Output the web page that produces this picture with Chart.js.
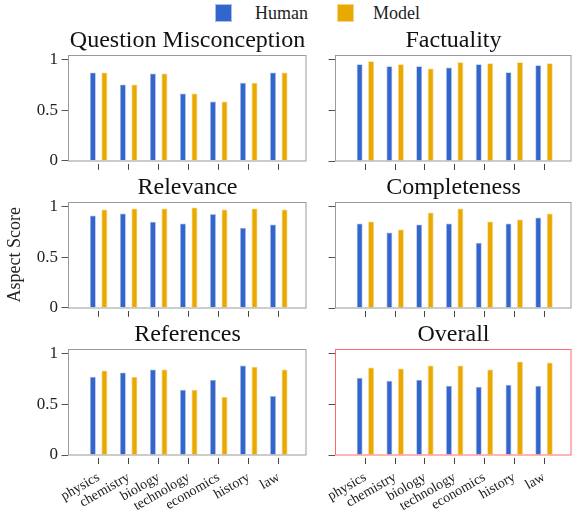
<!DOCTYPE html>
<html>
<head>
<meta charset="utf-8">
<script src="https://cdn.jsdelivr.net/npm/chart.js@4/dist/chart.umd.min.js"></script>
<style>
  html, body { margin: 0; padding: 0; background: #fff; }
  #wrap { position: relative; width: 573px; height: 512px; overflow: hidden; font-family: 'Liberation Serif', 'Times New Roman', serif; }
  #wrap canvas { position: absolute; }
  .key { position: absolute; top: 4px; width: 17px; height: 18px; box-sizing: border-box; }
  .keytext { position: absolute; top: 2px; font-size: 18px; line-height: 22px; color: #222; }
</style>
</head>
<body>
<div id="wrap">
  <div class="key" style="left:215px; background:#3366cc; border:1px solid #a9bde9;"></div>
  <div class="keytext" style="left:255px;">Human</div>
  <div class="key" style="left:337px; background:#eaa900; border:1px solid #f3d48a;"></div>
  <div class="keytext" style="left:373px;">Model</div>

  <canvas id="c-qm" style="left:0px; top:26px;" width="308" height="147"></canvas>
  <canvas id="c-fact" style="left:315px; top:26px;" width="258" height="147"></canvas>
  <canvas id="c-rel" style="left:0px; top:173px;" width="308" height="147"></canvas>
  <canvas id="c-comp" style="left:315px; top:173px;" width="258" height="147"></canvas>
  <canvas id="c-ref" style="left:0px; top:320px;" width="308" height="192"></canvas>
  <canvas id="c-all" style="left:315px; top:320px;" width="258" height="192"></canvas>
</div>
<script>
// === Оцінки по аспектах: Human vs Model ===
const categories = ['physics', 'chemistry', 'biology', 'technology', 'economics', 'history', 'law'];
const yTicks = [0, 0.5, 1];

const qmHuman = [0.875, 0.756, 0.865, 0.667, 0.588, 0.773, 0.875];
const qmModel = [0.875, 0.756, 0.865, 0.667, 0.588, 0.773, 0.875];
const factHuman = [0.957, 0.937, 0.937, 0.924, 0.957, 0.878, 0.947];
const factModel = [0.987, 0.957, 0.914, 0.977, 0.967, 0.977, 0.967];
const relHuman = [0.914, 0.934, 0.852, 0.836, 0.928, 0.793, 0.826];
const relModel = [0.974, 0.984, 0.984, 0.993, 0.974, 0.984, 0.974];
const compHuman = [0.836, 0.747, 0.826, 0.836, 0.645, 0.836, 0.895];
const compModel = [0.855, 0.776, 0.944, 0.984, 0.855, 0.875, 0.934];
const refHuman = [0.774, 0.816, 0.846, 0.646, 0.744, 0.885, 0.584];
const refModel = [0.836, 0.774, 0.846, 0.646, 0.577, 0.872, 0.846];
const allHuman = [0.764, 0.734, 0.744, 0.685, 0.675, 0.695, 0.685];
const allModel = [0.866, 0.856, 0.885, 0.885, 0.846, 0.925, 0.915];

const BLUE = '#3366cc';
const ORANGE = '#eaa900';
const SERIF = "'Liberation Serif', 'Times New Roman', serif";

Chart.defaults.font.family = SERIF;
Chart.defaults.color = '#222';

// рамка навколо області графіка (колір задається для кожного графіка)
function framePlugin(color) {
    return {
        id: 'frame',
        afterDraw(chart) {
            const { ctx, chartArea: a } = chart;
            if (!a) return;
            ctx.save();
            ctx.strokeStyle = color;
            ctx.lineWidth = 1;
            const x = Math.round(a.left) + 0.5;
            const y = Math.round(a.top) + 0.5;
            ctx.strokeRect(x, y, Math.round(a.right) - 1 - x, Math.round(a.bottom) - y);
            ctx.restore();
        },
    };
}

function makeChart(id, title, human, model, opt) {
    const canvas = document.getElementById(id);
    const toXY = (arr) => arr.map((v, i) => ({ x: i, y: v }));
    return new Chart(canvas.getContext('2d'), {
        type: 'bar',
        data: {
            datasets: [
                { label: 'Human', data: toXY(human), backgroundColor: BLUE, borderColor: '#a9bde9', borderWidth: 0.8 },
                { label: 'Model', data: toXY(model), backgroundColor: ORANGE, borderColor: '#f3d48a', borderWidth: 0.8 },
            ],
        },
        plugins: [framePlugin(opt.frame)],
        options: {
            responsive: false,
            animation: false,
            categoryPercentage: 0.77,
            barPercentage: 0.52,
            layout: { padding: { left: 0, right: 1, top: 0, bottom: 0 } },
            plugins: {
                legend: { display: false },
                tooltip: { enabled: false },
                title: {
                    display: true,
                    text: title,
                    fullSize: false,
                    color: '#111',
                    font: { size: 24, weight: 'normal', family: SERIF },
                    padding: { top: 0, bottom: 0 },
                },
            },
            scales: {
                x: {
                    type: 'linear',
                    offset: false,
                    min: -1.02,
                    max: 6.94,
                    afterBuildTicks: (s) => { s.ticks = categories.map((c, i) => ({ value: i })); },
                    afterFit: (s) => { s.height = opt.xHeight; },
                    ticks: {
                        display: opt.xLabels,
                        autoSkip: false,
                        minRotation: 30,
                        maxRotation: 30,
                        padding: 5,
                        color: '#222',
                        font: { size: 14 },
                        callback: (v) => categories[v],
                    },
                    grid: {
                        offset: false,
                        drawOnChartArea: false,
                        drawTicks: true,
                        tickLength: 9,
                        tickColor: '#444',
                        tickBorderDash: [0, 3, 6, 0],
                    },
                    border: { display: false },
                },
                y: {
                    min: 0,
                    max: 1.05,
                    afterBuildTicks: (s) => { s.ticks = yTicks.map((v) => ({ value: v })); },
                    afterFit: (s) => { s.width = opt.yWidth; },
                    ticks: {
                        display: opt.yLabels,
                        padding: 2,
                        color: '#222',
                        font: { size: 17 },
                        callback: (v) => String(v),
                    },
                    title: {
                        display: !!opt.yTitle,
                        text: opt.yTitle || '',
                        color: '#222',
                        font: { size: 18 },
                        padding: { top: 4, bottom: 0 },
                    },
                    grid: {
                        drawOnChartArea: false,
                        drawTicks: true,
                        tickLength: 8,
                        tickColor: '#555',
                        tickBorderDash: [0, 1.5, 6.5, 0],
                    },
                    border: { display: false },
                },
            },
        },
    });
}

const leftTop = { yWidth: 68, yLabels: true, xLabels: false, xHeight: 12, frame: '#999' };
const rightTop = { yWidth: 20, yLabels: false, xLabels: false, xHeight: 12, frame: '#999' };

makeChart('c-qm', 'Question Misconception', qmHuman, qmModel, leftTop);
makeChart('c-fact', 'Factuality', factHuman, factModel, rightTop);
makeChart('c-rel', 'Relevance', relHuman, relModel, { ...leftTop, yTitle: 'Aspect Score' });
makeChart('c-comp', 'Completeness', compHuman, compModel, rightTop);
makeChart('c-ref', 'References', refHuman, refModel, { ...leftTop, xLabels: true, xHeight: 57 });
makeChart('c-all', 'Overall', allHuman, allModel, { ...rightTop, xLabels: true, xHeight: 57, frame: '#ff6b6b' });
</script>
</body>
</html>
